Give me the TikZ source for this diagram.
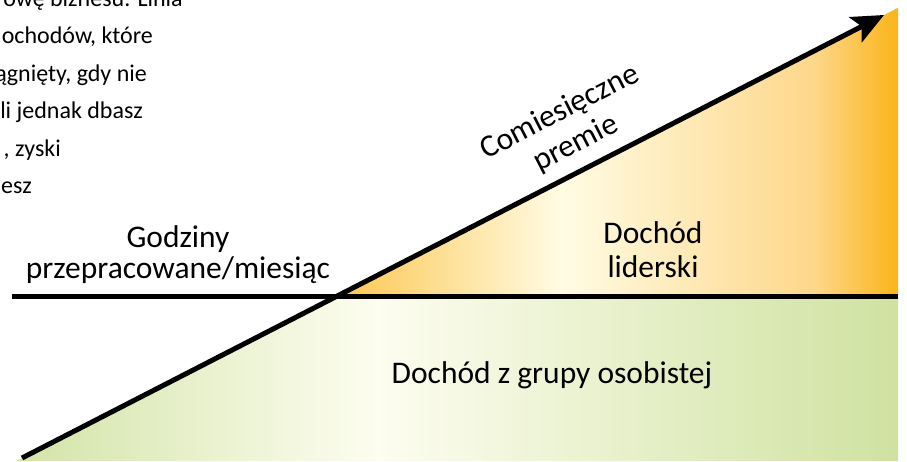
\documentclass[tikz,border=0pt]{standalone}
\usepackage{fontspec}
\setmainfont{Carlito}
\usetikzlibrary{arrows.meta}
\usetikzlibrary{calc}

\definecolor{orangeA}{HTML}{FCC650}
\definecolor{orangeB}{HTML}{FFFCE4}
\definecolor{orangeC}{HTML}{FDD78A}
\definecolor{orangeD}{HTML}{FBB41A}
\definecolor{greenA}{HTML}{D3E4A8}
\definecolor{greenB}{HTML}{FDFDF0}
\definecolor{greenC}{HTML}{CFE2A1}

\pgfdeclarehorizontalshading{orangeshade}{100bp}{color(0bp)=(orangeA); color(25bp)=(orangeA); color(45bp)=(orangeB); color(67.5bp)=(orangeC); color(75bp)=(orangeD); color(100bp)=(orangeD)}
\pgfdeclarehorizontalshading{greenshade}{100bp}{color(0bp)=(greenA); color(25bp)=(greenA); color(45.5bp)=(greenB); color(75bp)=(greenC); color(100bp)=(greenC)}

\begin{document}
\begin{tikzpicture}[x=1pt,y=-1pt,>/.tip={Stealth[length=32pt,width=28pt,inset=7pt]},
	every node/.style={inner sep=0pt},
	big/.style={font=\fontsize{31.5}{35}\selectfont},
	small/.style={font=\fontsize{24}{28}\selectfont}]
	\useasboundingbox (0,0) rectangle (907,461);
	\clip (0,0) rectangle (907,461);
	% axes
	\coordinate (hl) at (12,296);
	\coordinate (hr) at (898,296);
	\coordinate (br) at (898,461);
	\coordinate (bb) at (0,461);
	\coordinate (start) at (22,458);
	\coordinate (tip) at (884,15);
	\coordinate (cross) at (intersection of start--tip and hl--hr);
	\coordinate (tr) at (intersection of start--tip and hr--br);
	\coordinate (bl) at (intersection of start--tip and bb--br);
	% areas
	\shade[shading=greenshade] (bl) -- (cross) -- (hr) -- (br) -- cycle;
	\shade[shading=orangeshade] (cross) -- (hr) -- (tr) -- cycle;
	\draw[line width=5pt] (hl) -- (hr);
	\draw[->,line width=5pt] (start) -- (tip);
	% labels
	\draw (178,247) node (hours1) [big,anchor=base] {Godziny};
	\draw (178,278) node (hours2) [big,anchor=base] {przepracowane/miesiąc};
	\draw (653,243) node (lead1) [big,anchor=base] {Dochód};
	\draw (653,277) node (lead2) [big,anchor=base] {liderski};
	\draw (552,383) node (personal) [big,anchor=base] {Dochód z grupy osobistej};
	\draw (568,128) node (bonus) [big,align=center,rotate=27.2] {Comiesięczne\\premie};
	% cut text, top left
	\draw (183,6) node (note1) [small,anchor=base east] {owę biznesu. Linia};
	\draw (153,43.5) node (note2) [small,anchor=base east] {ochodów, które};
	\draw (147,81) node (note3) [small,anchor=base east] {ągnięty, gdy nie};
	\draw (143,118.5) node (note4) [small,anchor=base east] {li jednak dbasz};
	\draw (61,156) node (note5) [small,anchor=base east] {, zyski};
	\draw (32,193.5) node (note6) [small,anchor=base east] {esz};
\end{tikzpicture}
\end{document}
